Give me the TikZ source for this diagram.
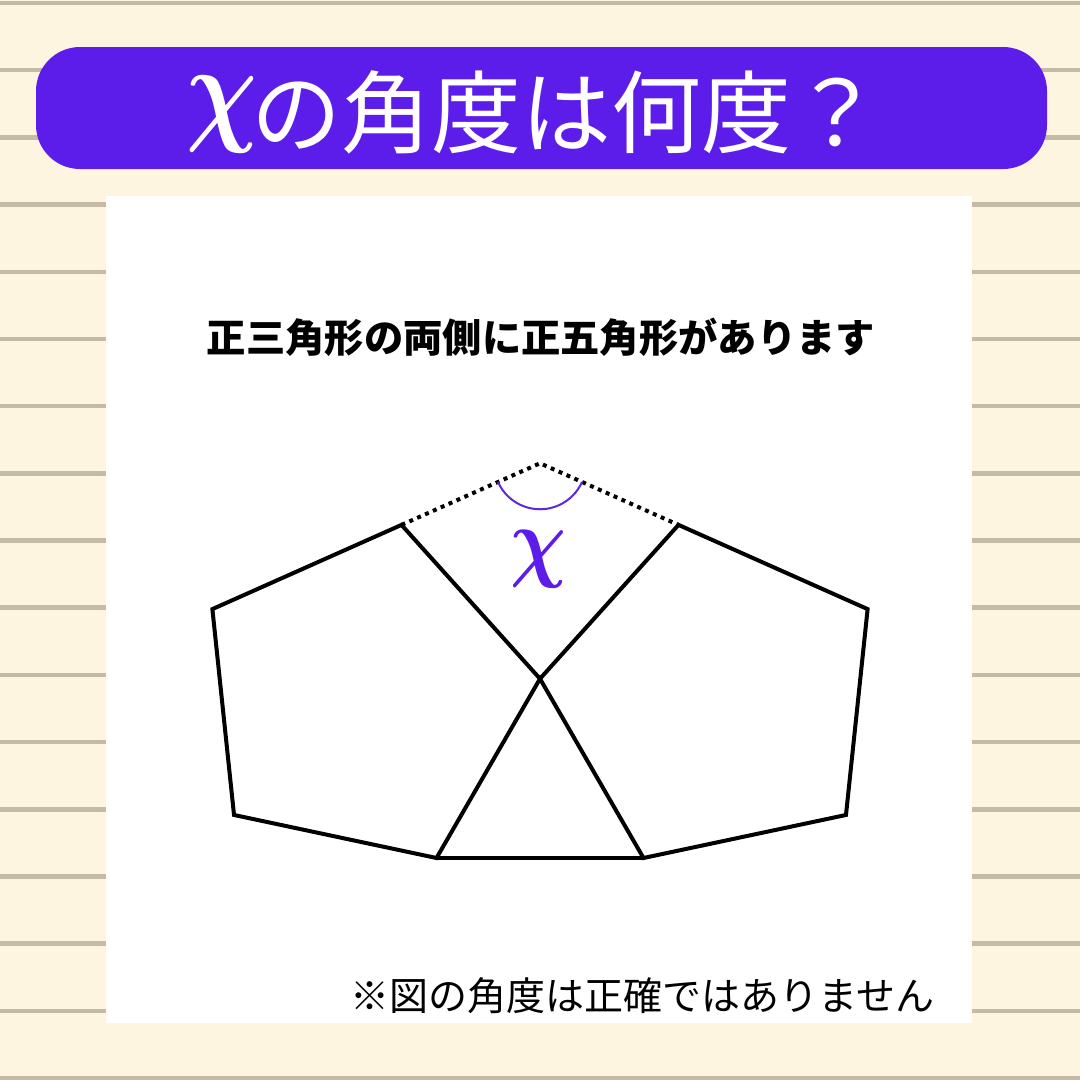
\documentclass[tikz,border=0pt]{standalone}
\usepackage{fontspec}
\usepackage{bm}
\newfontfamily\jp{Noto Sans CJK JP}
\usetikzlibrary{calc}
\definecolor{bgcream}{RGB}{254,245,225}
\definecolor{ruleline}{RGB}{196,186,166}
\definecolor{barpurple}{RGB}{92,28,234}
\definecolor{anglepurple}{RGB}{92,40,220}
\tikzset{
  ruled/.style={draw=ruleline, line width=4.5pt},
  shapeline/.style={draw=black, line width=4pt, line join=miter},
  dotline/.style={draw=black, line width=4pt, dash pattern=on 4pt off 4.6pt},
  anglearc/.style={draw=anglepurple, line width=2pt},
}
\begin{document}
\begin{tikzpicture}[x=1pt,y=-1pt]
\useasboundingbox (0,0) rectangle (1080,1080);
\fill[bgcream] (0,0) rectangle (1080,1080);
\foreach \k in {0,...,16} \draw[ruled] (0,{3+67.19*\k}) -- (1080,{3+67.19*\k});
% title bar
\fill[barpurple, rounded corners=44pt] (36,47) rectangle (1047,169);
\node[anchor=base west, text=white, inner sep=0pt, font=\jp\fontsize{90}{90}\selectfont] (titletext) at (186,146) {\raisebox{17pt}{\fontsize{10}{12}\selectfont\scalebox{9.9}[12]{$\bm{\chi}$}}\hspace{-6pt}の角度は何度？};
% panel
\fill[white] (106,196) rectangle (972,1023);
\node[anchor=base, inner sep=0pt, font=\jp\bfseries\fontsize{39.3}{39.3}\selectfont] (statement) at (541,352) {正三角形の両側に正五角形があります};
\node[anchor=base east, inner sep=0pt, font=\jp\fontsize{39}{39}\selectfont] (note) at (935,1010) {※図の角度は正確ではありません};
% geometry (y axis points down, so polar angles are negated)
\coordinate (B1) at (436.5,858);
\coordinate (B2) at (643.5,858);
\coordinate (A) at (540,{858-207*0.8660254});
\coordinate (P2) at ($(B1)+(-168:207)$);
\coordinate (P3) at ($(P2)+(-96:207)$);
\coordinate (P4) at ($(P3)+(-24:207)$);
\coordinate (Q2) at ($(B2)+(-12:207)$);
\coordinate (Q3) at ($(Q2)+(-84:207)$);
\coordinate (Q4) at ($(Q3)+(-156:207)$);
\coordinate (T) at (intersection of P3--P4 and Q3--Q4);
\draw[dotline] (P4) -- (T) -- (Q4);
\draw[anglearc] ([shift={(-204:46)}]T) arc[start angle=-204, end angle=-336, radius=46];
\draw[shapeline] (A) -- (B1) -- (P2) -- (P3) -- (P4) -- cycle;
\draw[shapeline] (A) -- (B2) -- (Q2) -- (Q3) -- (Q4) -- cycle;
\draw[shapeline] (B1) -- (B2);
\node[inner sep=0pt, text=barpurple] (xlabel) at (538,559) {\scalebox{7.8}[9]{$\bm{\chi}$}};
\end{tikzpicture}
\end{document}
